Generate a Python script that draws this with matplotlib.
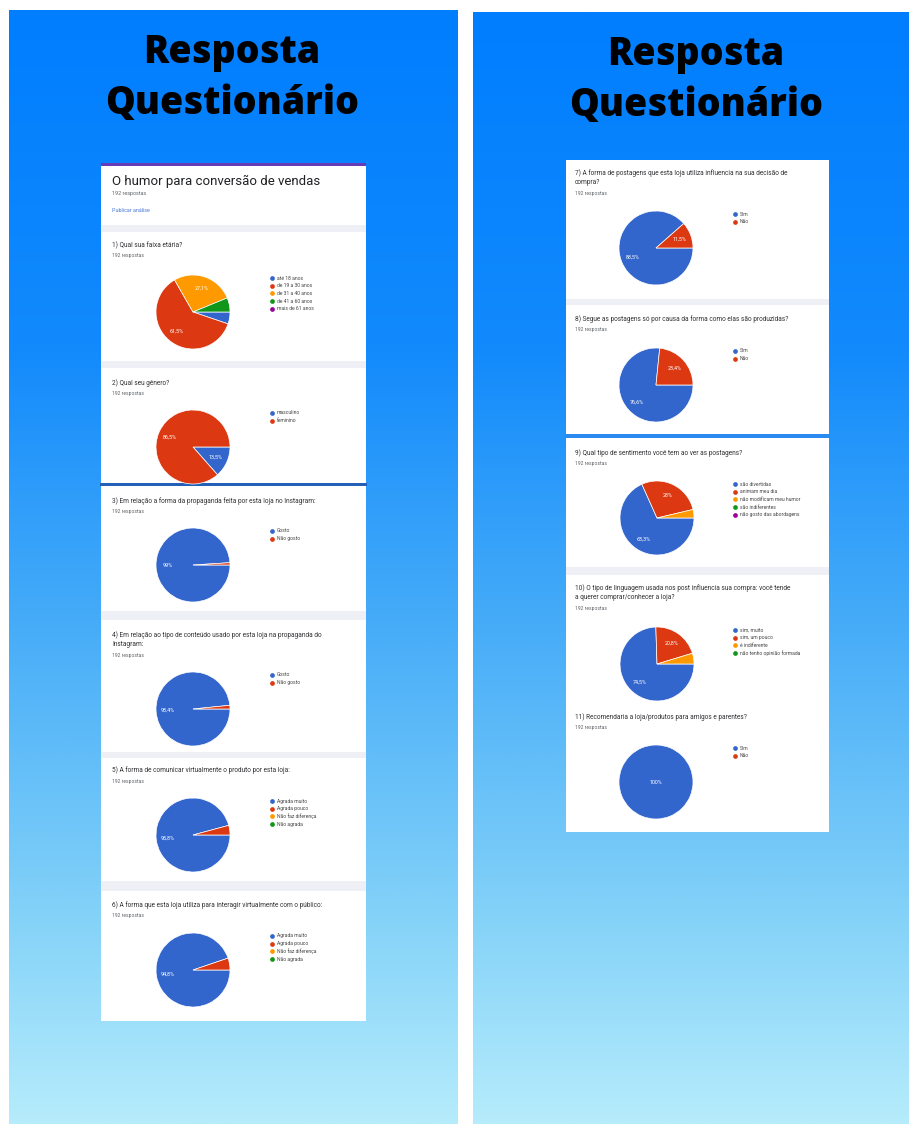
import numpy as np
import matplotlib.pyplot as plt
from matplotlib.patches import Rectangle

W, H = 909, 1124

# ---- data (Google Forms summaries, 192 respostas each) ----
q1_title = "1) Qual sua faixa etária?"
q1_labels = ["até 18 anos", "de 19 a 30 anos", "de 31 a 40 anos", "de 41 a 60 anos", "mais de 61 anos"]
q1_values = [5.2, 61.5, 27.1, 6.2, 0.0]

q2_title = "2) Qual seu gênero?"
q2_labels = ["masculino", "feminino"]
q2_values = [13.5, 86.5]

q3_title = "3) Em relação a forma da propaganda feita por esta loja no Instagram:"
q3_labels = ["Gosto", "Não gosto"]
q3_values = [99.0, 1.0]

q4_title = "4) Em relação ao tipo de conteúdo usado por esta loja na propaganda do\nInstagram:"
q4_labels = ["Gosto", "Não gosto"]
q4_values = [98.4, 1.6]

q5_title = "5) A forma de comunicar virtualmente o produto por esta loja:"
q5_labels = ["Agrada muito", "Agrada pouco", "Não faz diferença", "Não agrada"]
q5_values = [95.8, 4.2, 0.0, 0.0]

q6_title = "6) A forma que esta loja utiliza para interagir virtualmente com o público:"
q6_labels = ["Agrada muito", "Agrada pouco", "Não faz diferença", "Não agrada"]
q6_values = [94.8, 5.2, 0.0, 0.0]

q7_title = "7) A forma de postagens que esta loja utiliza influencia na sua decisão de\ncompra?"
q7_labels = ["Sim", "Não"]
q7_values = [88.5, 11.5]

q8_title = "8) Segue as postagens só por causa da forma como elas são produzidas?"
q8_labels = ["Sim", "Não"]
q8_values = [76.6, 23.4]

q9_title = "9) Qual tipo de sentimento você tem ao ver as postagens?"
q9_labels = ["são divertidas", "animam meu dia", "não modificam meu humor", "são indiferentes", "não gosto das abordagens"]
q9_values = [68.3, 28.0, 3.7, 0.0, 0.0]

q10_title = "10) O tipo de linguagem usada nos post influencia sua compra: você tende\na querer comprar/conhecer a loja?"
q10_labels = ["sim, muito", "sim, um pouco", "é indiferente", "não tenho opinião formada"]
q10_values = [74.5, 20.8, 4.7, 0.0]

q11_title = "11) Recomendaria a loja/produtos para amigos e parentes?"
q11_labels = ["Sim", "Não"]
q11_values = [100.0, 0.0]

n_respostas = "192 respostas"
form_title = "O humor para conversão de vendas"

gf_colors = ["#3366cc", "#dc3912", "#ff9900", "#109618", "#990099"]

fig = plt.figure(figsize=(W / 100, H / 100), dpi=100)
ax = fig.add_axes([0, 0, 1, 1])


def Y(y):
    return H - y


# background gradient panels
stops = np.array([0.0, 0.3, 0.55, 0.8, 1.0])
rgb = np.array([[0, 126, 255], [18, 138, 252], [70, 172, 248], [128, 208, 248], [182, 236, 252]]) / 255.0


def gradient_panel(x0, x1, y0, y1):
    t = np.linspace(0, 1, 300)
    img = np.stack([np.interp(t, stops, rgb[:, k]) for k in range(3)], axis=1)
    img = np.repeat(img[:, None, :], 2, axis=1)
    ax.imshow(img, extent=(x0, x1, Y(y1), Y(y0)), aspect="auto", zorder=0, interpolation="bilinear")


gradient_panel(9, 458, 10, H)
gradient_panel(473, W, 12, H)

for cx, yy in [(232, 52), (696, 54)]:
    ax.text(cx, Y(yy), "Resposta", ha="center", va="center", fontsize=27,
            family="Open Sans", weight="heavy", color="black", zorder=6)
    ax.text(cx, Y(yy + 51), "Questionário", ha="center", va="center", fontsize=27,
            family="Open Sans", weight="heavy", color="black", zorder=6)


def rect(x0, x1, y0, y1, color, z):
    ax.add_patch(Rectangle((x0, Y(y1)), x1 - x0, y1 - y0, facecolor=color, edgecolor="none", zorder=z))


band = "#eef0f6"
# left card
rect(101, 366, 163, 1021, "white", 1)
rect(101, 366, 163, 166, "#673ab7", 2)
for y0, y1 in [(225, 232), (361, 368), (611, 620), (752, 758), (881, 891)]:
    rect(101, 366, y0, y1, band, 2)
rect(100, 367, 483, 486, "#2460b8", 3)
# right card
rect(566, 829, 160, 832, "white", 1)
for y0, y1 in [(299, 305), (567, 575)]:
    rect(566, 829, y0, y1, band, 2)
rect(565, 830, 434, 438, "#2a8af0", 3)

# header card text
ax.text(112, Y(181), form_title, fontsize=9.5, family="Roboto", color="#202124", va="center", zorder=5)
ax.text(112, Y(193), n_respostas, fontsize=3.9, family="Roboto", color="#5f6368", va="center", zorder=5)
ax.text(112, Y(211), "Publicar análise", fontsize=3.9, family="Roboto", color="#4a7bd8", va="center", zorder=5)


def fmt(v):
    if abs(v - round(v)) < 1e-9:
        return f"{int(round(v))}%"
    return f"{v:.1f}".replace(".", ",") + "%"


def question(title, labels, values, tx, ty, cx, cy, lx):
    lines = title.split("\n")
    for i, ln in enumerate(lines):
        ax.text(tx, Y(ty + 9.5 * i), ln, fontsize=4.7, family="Roboto", color="#303134", va="center", zorder=5)
    ry = ty + 9.5 * (len(lines) - 1) + 11
    ax.text(tx, Y(ry), n_respostas, fontsize=3.6, family="Roboto", color="#5f6368", va="center", zorder=5)

    idx = [i for i, v in enumerate(values) if v > 0]
    vals = [values[i] for i in idx]
    cols = [gf_colors[i] for i in idx]
    r = 37
    wedges, _ = ax.pie(vals, colors=cols, center=(cx, Y(cy)), radius=r, startangle=0,
                       counterclock=False, frame=True,
                       wedgeprops=dict(edgecolor="white", linewidth=0.5, zorder=4))
    for w, v in zip(wedges, vals):
        if v >= 10:
            a = np.deg2rad((w.theta1 + w.theta2) / 2)
            d = 0.68 * r if v < 99.9 else 0
            ax.text(cx + d * np.cos(a), Y(cy) + d * np.sin(a), fmt(v), ha="center", va="center",
                    fontsize=3.9, family="Roboto", color="white", zorder=5)
    for i, lab in enumerate(labels):
        yy = cy - 34 + 7.7 * i
        ax.plot(lx, Y(yy), "o", ms=3.4, color=gf_colors[i], mec="none", zorder=5)
        ax.text(lx + 5, Y(yy), lab, fontsize=3.6, family="Roboto", color="#444444", va="center", zorder=5)


question(q1_title, q1_labels, q1_values, 112, 245, 193, 312, 272)
question(q2_title, q2_labels, q2_values, 112, 383, 193, 447, 272)
question(q3_title, q3_labels, q3_values, 112, 501, 193, 565, 272)
question(q4_title, q4_labels, q4_values, 112, 635, 193, 709, 272)
question(q5_title, q5_labels, q5_values, 112, 770, 193, 835, 272)
question(q6_title, q6_labels, q6_values, 112, 905, 193, 970, 272)
question(q7_title, q7_labels, q7_values, 575, 173, 656, 248, 735)
question(q8_title, q8_labels, q8_values, 575, 319, 656, 385, 735)
question(q9_title, q9_labels, q9_values, 575, 453, 657, 518, 735)
question(q10_title, q10_labels, q10_values, 575, 588, 657, 664, 735)
question(q11_title, q11_labels, q11_values, 575, 717, 656, 782, 735)

ax.set_xlim(0, W)
ax.set_ylim(0, H)
ax.set_aspect("equal")
ax.axis("off")
fig.savefig("out.png", dpi=100, facecolor="white")
